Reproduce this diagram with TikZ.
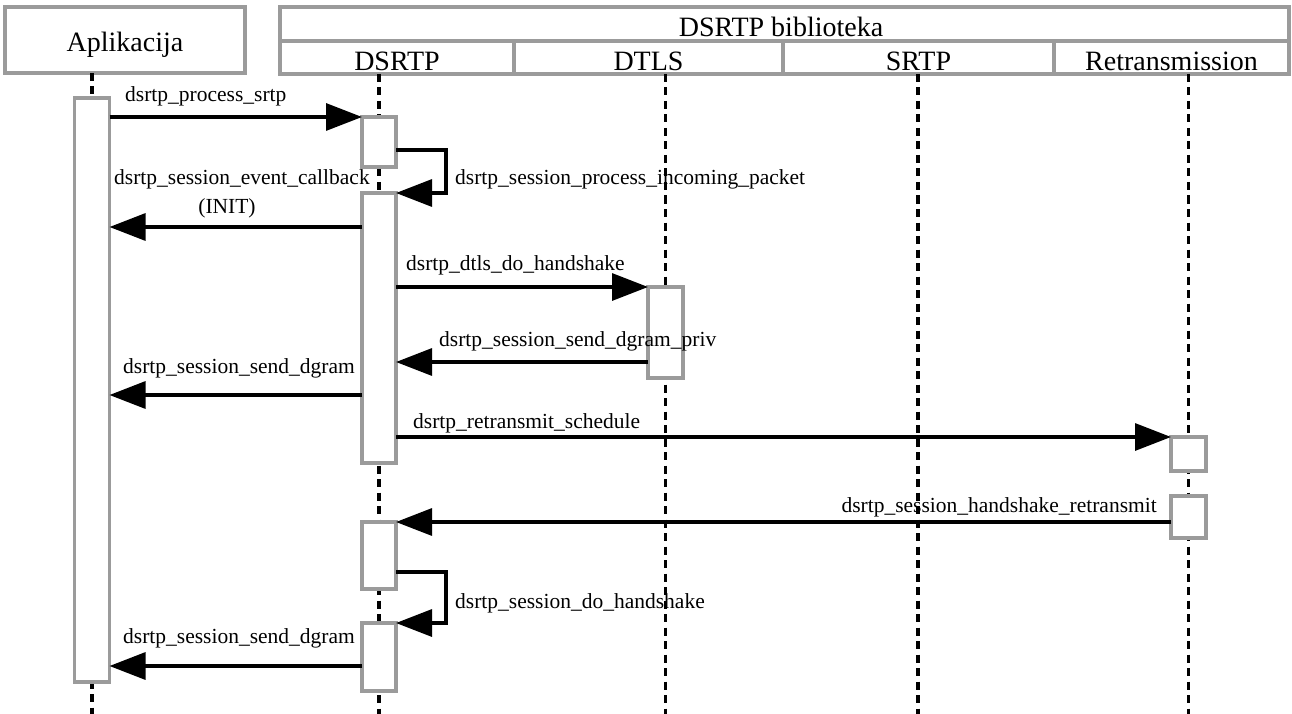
\documentclass[tikz,border=0pt]{standalone}
\usepackage{fontspec}
\setmainfont{Liberation Serif}
\usetikzlibrary{arrows.meta}
\definecolor{boxgray}{RGB}{155,155,155}
\newcommand\lbfont{\fontsize{21.5}{24}\selectfont}
\newcommand\hdfont{\fontsize{28}{30}\selectfont}
\begin{document}
\begin{tikzpicture}[x=1pt,y=-1pt,
  life/.style={line width=3.8pt, dash pattern=on 8pt off 5.5pt},
  act/.style={draw=boxgray, fill=white, line width=3.2pt, minimum width=34pt, inner sep=0pt, outer sep=0pt},
  hbox/.style={draw=boxgray, line width=3.2pt, inner sep=0pt, outer sep=0pt},
  htext/.style={font=\hdfont, inner sep=0pt},
  msg/.style={line width=3.2pt, -{Triangle[length=36pt,width=27pt]}},
  lbl/.style={font=\lbfont, inner sep=0pt}]
\useasboundingbox (0,0) rectangle (1292,714);
% header
\node[hbox, minimum width=240pt, minimum height=66pt] (app) at (125,40) {};
\node[htext, anchor=base] (appT) at (125,52) {Aplikacija};
\node[hbox, minimum width=1009pt, minimum height=34pt] (lib) at (784.5,24) {};
\node[htext, anchor=base] (libT) at (781,37) {DSRTP biblioteka};
\node[hbox, minimum width=234pt, minimum height=33pt] (cD) at (397,57.5) {};
\node[hbox, minimum width=269pt, minimum height=33pt] (cT) at (648.5,57.5) {};
\node[hbox, minimum width=271pt, minimum height=33pt] (cS) at (918.5,57.5) {};
\node[hbox, minimum width=235pt, minimum height=33pt] (cR) at (1171.5,57.5) {};
\node[htext, anchor=base] (cDT) at (397,71) {DSRTP};
\node[htext, anchor=base] (cTT) at (648.5,71) {DTLS};
\node[htext, anchor=base] (cST) at (918.5,71) {SRTP};
\node[htext, anchor=base] (cRT) at (1171.5,71) {Retransmission};
% lifelines
\coordinate (lA) at (92,714);
\coordinate (lD) at (379,714);
\coordinate (lT) at (665.5,714);
\coordinate (lS) at (918,714);
\coordinate (lR) at (1188.5,714);
\draw[life] (lA |- app.south) -- (lA);
\draw[life] (lD |- cD.south) -- (lD);
\draw[life] (lT |- cT.south) -- (lT);
\draw[life] (lS |- cS.south) -- (lS);
\draw[life] (lR |- cR.south) -- (lR);
% activations
\node[act, minimum width=35pt, minimum height=584pt] (a0) at (92,390) {};
\node[act, minimum height=50pt] (d1) at (379,142) {};
\node[act, minimum height=270pt] (d2) at (379,328) {};
\node[act, minimum width=35pt, minimum height=91pt] (t1) at (665.5,332.5) {};
\node[act, minimum width=35pt, minimum height=34pt] (r1) at (1188.5,454) {};
\node[act, minimum width=35pt, minimum height=42pt] (r2) at (1188.5,517) {};
\node[act, minimum height=67pt] (d3) at (379,555.5) {};
\node[act, minimum height=68pt] (d4) at (379,657) {};
% messages
\draw[msg] (a0.east |- d1.north) -- (d1.north west);
\draw[msg] (d1.east |- 0,150) -- ++(50,0) |- (d2.north east);
\draw[msg] (d2.west |- 0,227) -- (a0.east |- 0,227);
\draw[msg] (d2.east |- t1.north) -- (t1.north west);
\draw[msg] (t1.west |- 0,362) -- (d2.east |- 0,362);
\draw[msg] (d2.west |- 0,395) -- (a0.east |- 0,395);
\draw[msg] (d2.east |- r1.north) -- (r1.north west);
\draw[msg] (r2.west |- d3.north) -- (d3.north east);
\draw[msg] (d3.east |- 0,572) -- ++(50,0) |- (d4.north east);
\draw[msg] (d4.west |- 0,666) -- (a0.east |- 0,666);
% labels
\node[lbl, anchor=base west] (L1) at (125,102) {dsrtp\_process\_srtp};
\node[lbl, anchor=base west] (L2) at (455,185) {dsrtp\_session\_process\_incoming\_packet};
\node[lbl, anchor=base west] (L3) at (114,185) {dsrtp\_session\_event\_callback};
\node[lbl, anchor=base] (L3b) at (227,213) {(INIT)};
\node[lbl, anchor=base west] (L4) at (406,270) {dsrtp\_dtls\_do\_handshake};
\node[lbl, anchor=base west] (L5) at (439,346) {dsrtp\_session\_send\_dgram\_priv};
\node[lbl, anchor=base west] (L6) at (123,373) {dsrtp\_session\_send\_dgram};
\node[lbl, anchor=base west] (L7) at (413,428) {dsrtp\_retransmit\_schedule};
\node[lbl, anchor=base east] (L8) at (1157,512) {dsrtp\_session\_handshake\_retransmit};
\node[lbl, anchor=base west] (L9) at (455,608) {dsrtp\_session\_do\_handshake};
\node[lbl, anchor=base west] (L10) at (123,643) {dsrtp\_session\_send\_dgram};
\end{tikzpicture}
\end{document}
